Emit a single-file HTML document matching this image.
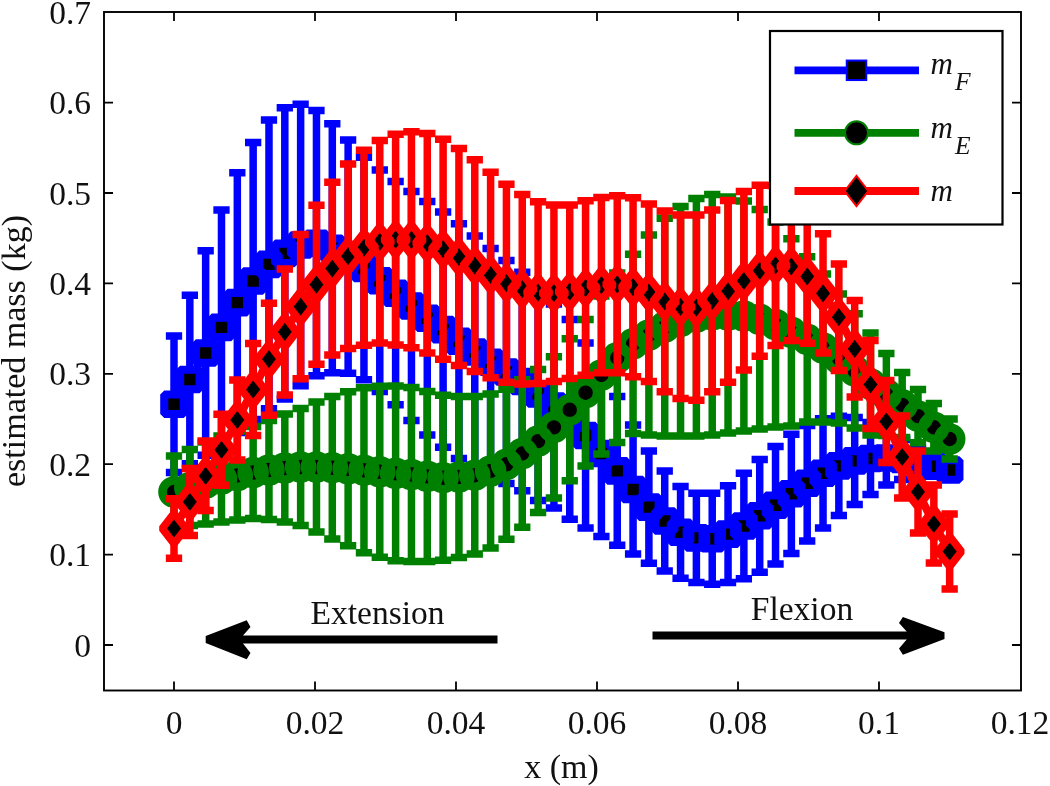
<!DOCTYPE html>
<html><head><meta charset="utf-8"><title>estimated mass</title>
<style>html,body{margin:0;padding:0;background:#fff}svg{display:block}</style></head>
<body><svg width="1050" height="786" viewBox="0 0 1050 786">
<rect width="1050" height="786" fill="#fff"/>
<rect x="104" y="12" width="917" height="678.5" fill="#fff" stroke="#000" stroke-width="1.9"/>
<path d="M174 690.5v-9M174 12v9M315 690.5v-9M315 12v9M456 690.5v-9M456 12v9M597 690.5v-9M597 12v9M738 690.5v-9M738 12v9M879 690.5v-9M879 12v9M104 645h9M1021 645h-9M104 554.6h9M1021 554.6h-9M104 464.2h9M1021 464.2h-9M104 373.8h9M1021 373.8h-9M104 283.4h9M1021 283.4h-9M104 193h9M1021 193h-9M104 102.6h9M1021 102.6h-9" stroke="#000" stroke-width="1.8" fill="none"/>
<g font-family="'Liberation Serif',serif" font-size="33.5" fill="#111"><text x="174" y="733.5" text-anchor="middle">0</text><text x="315" y="733.5" text-anchor="middle">0.02</text><text x="456" y="733.5" text-anchor="middle">0.04</text><text x="597" y="733.5" text-anchor="middle">0.06</text><text x="738" y="733.5" text-anchor="middle">0.08</text><text x="879" y="733.5" text-anchor="middle">0.1</text><text x="1020" y="733.5" text-anchor="middle">0.12</text><text x="91" y="656.5" text-anchor="end">0</text><text x="91" y="566.1" text-anchor="end">0.1</text><text x="91" y="475.7" text-anchor="end">0.2</text><text x="91" y="385.3" text-anchor="end">0.3</text><text x="91" y="294.9" text-anchor="end">0.4</text><text x="91" y="204.5" text-anchor="end">0.5</text><text x="91" y="114.1" text-anchor="end">0.6</text><text x="91" y="23.7" text-anchor="end">0.7</text><text x="561.5" y="777.5" text-anchor="middle" font-size="34">x (m)</text><text transform="translate(25 351) rotate(-90)" text-anchor="middle" font-size="34">estimated mass (kg)</text><text x="377.5" y="624" text-anchor="middle">Extension</text><text x="802" y="619.5" text-anchor="middle">Flexion</text></g>
<path d="M174 336.1V472.5M165.85 336.1h16.3M165.85 472.5h16.3M189.83 295.2V463.8M181.68 295.2h16.3M181.68 463.8h16.3M205.66 250.8V455.2M197.51 250.8h16.3M197.51 455.2h16.3M221.49 209.9V444.9M213.34 209.9h16.3M213.34 444.9h16.3M237.32 172.7V432.5M229.17 172.7h16.3M229.17 432.5h16.3M253.15 142.4V419.6M245 142.4h16.3M245 419.6h16.3M268.98 120.1V408.7M260.83 120.1h16.3M260.83 408.7h16.3M284.81 107.7V399.1M276.66 107.7h16.3M276.66 399.1h16.3M300.64 104.3V385.7M292.49 104.3h16.3M292.49 385.7h16.3M316.47 110.6V375.8M308.32 110.6h16.3M308.32 375.8h16.3M332.3 123.8V372.8M324.15 123.8h16.3M324.15 372.8h16.3M348.13 139.9V373.3M339.98 139.9h16.3M339.98 373.3h16.3M363.96 157.3V379.7M355.81 157.3h16.3M355.81 379.7h16.3M379.79 170V391.6M371.64 170h16.3M371.64 391.6h16.3M395.62 181.6V404.8M387.47 181.6h16.3M387.47 404.8h16.3M411.45 191.5V420.5M403.3 191.5h16.3M403.3 420.5h16.3M427.28 201.4V435M419.13 201.4h16.3M419.13 435h16.3M443.11 211.9V447.3M434.96 211.9h16.3M434.96 447.3h16.3M458.94 223.8V458.6M450.79 223.8h16.3M450.79 458.6h16.3M474.77 236V468M466.62 236h16.3M466.62 468h16.3M490.6 248.6V476M482.45 248.6h16.3M482.45 476h16.3M506.43 260.5V483.5M498.28 260.5h16.3M498.28 483.5h16.3M522.26 272.3V490.7M514.11 272.3h16.3M514.11 490.7h16.3M538.09 287.2V500.6M529.94 287.2h16.3M529.94 500.6h16.3M553.92 304V508M545.77 304h16.3M545.77 508h16.3M569.75 319.5V519.3M561.6 319.5h16.3M561.6 519.3h16.3M585.58 343V528M577.43 343h16.3M577.43 528h16.3M601.41 370.5V536.5M593.26 370.5h16.3M593.26 536.5h16.3M617.24 396.5V545.3M609.09 396.5h16.3M609.09 545.3h16.3M633.07 425V554M624.92 425h16.3M624.92 554h16.3M648.9 451V563.2M640.75 451h16.3M640.75 563.2h16.3M664.73 471.1V570.9M656.58 471.1h16.3M656.58 570.9h16.3M680.56 486.4V578.2M672.41 486.4h16.3M672.41 578.2h16.3M696.39 493.3V582.5M688.24 493.3h16.3M688.24 582.5h16.3M712.22 493.2V584.2M704.07 493.2h16.3M704.07 584.2h16.3M728.05 485.8V582.4M719.9 485.8h16.3M719.9 582.4h16.3M743.88 473.3V578.7M735.73 473.3h16.3M735.73 578.7h16.3M759.71 459.4V572.2M751.56 459.4h16.3M751.56 572.2h16.3M775.54 446.5V563.9M767.39 446.5h16.3M767.39 563.9h16.3M791.37 434.2V553.4M783.22 434.2h16.3M783.22 553.4h16.3M807.2 425.5V541.1M799.05 425.5h16.3M799.05 541.1h16.3M823.03 418.7V527.9M814.88 418.7h16.3M814.88 527.9h16.3M838.86 416.3V515.5M830.71 416.3h16.3M830.71 515.5h16.3M854.69 417.4V504.4M846.54 417.4h16.3M846.54 504.4h16.3M870.52 422.6V494.4M862.37 422.6h16.3M862.37 494.4h16.3M886.35 431V485M878.2 431h16.3M878.2 485h16.3M902.18 439.5V479.5M894.03 439.5h16.3M894.03 479.5h16.3M918.01 448.5V476.5M909.86 448.5h16.3M909.86 476.5h16.3M933.84 457.3V475.3M925.69 457.3h16.3M925.69 475.3h16.3M949.67 465V475M941.52 465h16.3M941.52 475h16.3" stroke="#0000ff" stroke-width="7.5" fill="none"/>
<polyline points="174,404.3 189.83,379.5 205.66,353 221.49,327.4 237.32,302.6 253.15,281 268.98,264.4 284.81,253.4 300.64,245 316.47,243.2 332.3,248.3 348.13,256.6 363.96,268.5 379.79,280.8 395.62,293.2 411.45,306 427.28,318.2 443.11,329.6 458.94,341.2 474.77,352 490.6,362.3 506.43,372 522.26,381.5 538.09,393.9 553.92,406 569.75,419.4 585.58,435.5 601.41,453.5 617.24,470.9 633.07,489.5 648.9,507.1 664.73,521 680.56,532.3 696.39,537.9 712.22,538.7 728.05,534.1 743.88,526 759.71,515.8 775.54,505.2 791.37,493.8 807.2,483.3 823.03,473.3 838.86,465.9 854.69,460.9 870.52,458.5 886.35,458 902.18,459.5 918.01,462.5 933.84,466.3 949.67,470" stroke="#0000ff" stroke-width="8.0" fill="none" stroke-linejoin="round"/>
<g fill="#000" stroke="none"><rect x="164.25" y="394.55" width="19.5" height="19.5"/><rect x="180.08" y="369.75" width="19.5" height="19.5"/><rect x="195.91" y="343.25" width="19.5" height="19.5"/><rect x="211.74" y="317.65" width="19.5" height="19.5"/><rect x="227.57" y="292.85" width="19.5" height="19.5"/><rect x="243.4" y="271.25" width="19.5" height="19.5"/><rect x="259.23" y="254.65" width="19.5" height="19.5"/><rect x="275.06" y="243.65" width="19.5" height="19.5"/><rect x="290.89" y="235.25" width="19.5" height="19.5"/><rect x="306.72" y="233.45" width="19.5" height="19.5"/><rect x="322.55" y="238.55" width="19.5" height="19.5"/><rect x="338.38" y="246.85" width="19.5" height="19.5"/><rect x="354.21" y="258.75" width="19.5" height="19.5"/><rect x="370.04" y="271.05" width="19.5" height="19.5"/><rect x="385.87" y="283.45" width="19.5" height="19.5"/><rect x="401.7" y="296.25" width="19.5" height="19.5"/><rect x="417.53" y="308.45" width="19.5" height="19.5"/><rect x="433.36" y="319.85" width="19.5" height="19.5"/><rect x="449.19" y="331.45" width="19.5" height="19.5"/><rect x="465.02" y="342.25" width="19.5" height="19.5"/><rect x="480.85" y="352.55" width="19.5" height="19.5"/><rect x="496.68" y="362.25" width="19.5" height="19.5"/><rect x="512.51" y="371.75" width="19.5" height="19.5"/><rect x="528.34" y="384.15" width="19.5" height="19.5"/><rect x="544.17" y="396.25" width="19.5" height="19.5"/><rect x="560" y="409.65" width="19.5" height="19.5"/><rect x="575.83" y="425.75" width="19.5" height="19.5"/><rect x="591.66" y="443.75" width="19.5" height="19.5"/><rect x="607.49" y="461.15" width="19.5" height="19.5"/><rect x="623.32" y="479.75" width="19.5" height="19.5"/><rect x="639.15" y="497.35" width="19.5" height="19.5"/><rect x="654.98" y="511.25" width="19.5" height="19.5"/><rect x="670.81" y="522.55" width="19.5" height="19.5"/><rect x="686.64" y="528.15" width="19.5" height="19.5"/><rect x="702.47" y="528.95" width="19.5" height="19.5"/><rect x="718.3" y="524.35" width="19.5" height="19.5"/><rect x="734.13" y="516.25" width="19.5" height="19.5"/><rect x="749.96" y="506.05" width="19.5" height="19.5"/><rect x="765.79" y="495.45" width="19.5" height="19.5"/><rect x="781.62" y="484.05" width="19.5" height="19.5"/><rect x="797.45" y="473.55" width="19.5" height="19.5"/><rect x="813.28" y="463.55" width="19.5" height="19.5"/><rect x="829.11" y="456.15" width="19.5" height="19.5"/><rect x="844.94" y="451.15" width="19.5" height="19.5"/><rect x="860.77" y="448.75" width="19.5" height="19.5"/><rect x="876.6" y="448.25" width="19.5" height="19.5"/><rect x="892.43" y="449.75" width="19.5" height="19.5"/><rect x="908.26" y="452.75" width="19.5" height="19.5"/><rect x="924.09" y="456.55" width="19.5" height="19.5"/><rect x="939.92" y="460.25" width="19.5" height="19.5"/></g>
<g stroke="#0000ff" stroke-width="8.1" fill="none" stroke-linejoin="bevel"><rect x="164.25" y="394.55" width="19.5" height="19.5"/><rect x="180.08" y="369.75" width="19.5" height="19.5"/><rect x="195.91" y="343.25" width="19.5" height="19.5"/><rect x="211.74" y="317.65" width="19.5" height="19.5"/><rect x="227.57" y="292.85" width="19.5" height="19.5"/><rect x="243.4" y="271.25" width="19.5" height="19.5"/><rect x="259.23" y="254.65" width="19.5" height="19.5"/><rect x="275.06" y="243.65" width="19.5" height="19.5"/><rect x="290.89" y="235.25" width="19.5" height="19.5"/><rect x="306.72" y="233.45" width="19.5" height="19.5"/><rect x="322.55" y="238.55" width="19.5" height="19.5"/><rect x="338.38" y="246.85" width="19.5" height="19.5"/><rect x="354.21" y="258.75" width="19.5" height="19.5"/><rect x="370.04" y="271.05" width="19.5" height="19.5"/><rect x="385.87" y="283.45" width="19.5" height="19.5"/><rect x="401.7" y="296.25" width="19.5" height="19.5"/><rect x="417.53" y="308.45" width="19.5" height="19.5"/><rect x="433.36" y="319.85" width="19.5" height="19.5"/><rect x="449.19" y="331.45" width="19.5" height="19.5"/><rect x="465.02" y="342.25" width="19.5" height="19.5"/><rect x="480.85" y="352.55" width="19.5" height="19.5"/><rect x="496.68" y="362.25" width="19.5" height="19.5"/><rect x="512.51" y="371.75" width="19.5" height="19.5"/><rect x="528.34" y="384.15" width="19.5" height="19.5"/><rect x="544.17" y="396.25" width="19.5" height="19.5"/><rect x="560" y="409.65" width="19.5" height="19.5"/><rect x="575.83" y="425.75" width="19.5" height="19.5"/><rect x="591.66" y="443.75" width="19.5" height="19.5"/><rect x="607.49" y="461.15" width="19.5" height="19.5"/><rect x="623.32" y="479.75" width="19.5" height="19.5"/><rect x="639.15" y="497.35" width="19.5" height="19.5"/><rect x="654.98" y="511.25" width="19.5" height="19.5"/><rect x="670.81" y="522.55" width="19.5" height="19.5"/><rect x="686.64" y="528.15" width="19.5" height="19.5"/><rect x="702.47" y="528.95" width="19.5" height="19.5"/><rect x="718.3" y="524.35" width="19.5" height="19.5"/><rect x="734.13" y="516.25" width="19.5" height="19.5"/><rect x="749.96" y="506.05" width="19.5" height="19.5"/><rect x="765.79" y="495.45" width="19.5" height="19.5"/><rect x="781.62" y="484.05" width="19.5" height="19.5"/><rect x="797.45" y="473.55" width="19.5" height="19.5"/><rect x="813.28" y="463.55" width="19.5" height="19.5"/><rect x="829.11" y="456.15" width="19.5" height="19.5"/><rect x="844.94" y="451.15" width="19.5" height="19.5"/><rect x="860.77" y="448.75" width="19.5" height="19.5"/><rect x="876.6" y="448.25" width="19.5" height="19.5"/><rect x="892.43" y="449.75" width="19.5" height="19.5"/><rect x="908.26" y="452.75" width="19.5" height="19.5"/><rect x="924.09" y="456.55" width="19.5" height="19.5"/><rect x="939.92" y="460.25" width="19.5" height="19.5"/></g>
<path d="M174 456V528M165.85 456h16.3M165.85 528h16.3M189.83 449.5V525.5M181.68 449.5h16.3M181.68 525.5h16.3M205.66 442V524M197.51 442h16.3M197.51 524h16.3M221.49 436V522M213.34 436h16.3M213.34 522h16.3M237.32 431V520M229.17 431h16.3M229.17 520h16.3M253.15 426.5V518.5M245 426.5h16.3M245 518.5h16.3M268.98 420.5V519.5M260.83 420.5h16.3M260.83 519.5h16.3M284.81 414V522M276.66 414h16.3M276.66 522h16.3M300.64 408.4V525.6M292.49 408.4h16.3M292.49 525.6h16.3M316.47 402V532M308.32 402h16.3M308.32 532h16.3M332.3 396.4V539M324.15 396.4h16.3M324.15 539h16.3M348.13 391.8V545.8M339.98 391.8h16.3M339.98 545.8h16.3M363.96 387.7V552.7M355.81 387.7h16.3M355.81 552.7h16.3M379.79 386.3V557.3M371.64 386.3h16.3M371.64 557.3h16.3M395.62 386V560.8M387.47 386h16.3M387.47 560.8h16.3M411.45 387.6V561.4M403.3 387.6h16.3M403.3 561.4h16.3M427.28 391.4V561.4M419.13 391.4h16.3M419.13 561.4h16.3M443.11 395.2V560.2M434.96 395.2h16.3M434.96 560.2h16.3M458.94 396.4V557.6M450.79 396.4h16.3M450.79 557.6h16.3M474.77 396.4V554M466.62 396.4h16.3M466.62 554h16.3M490.6 394V548M482.45 394h16.3M482.45 548h16.3M506.43 389.3V539.3M498.28 389.3h16.3M498.28 539.3h16.3M522.26 379.8V527.2M514.11 379.8h16.3M514.11 527.2h16.3M538.09 369.6V512.6M529.94 369.6h16.3M529.94 512.6h16.3M553.92 356.7V498.1M545.77 356.7h16.3M545.77 498.1h16.3M569.75 338.8V480.8M561.6 338.8h16.3M561.6 480.8h16.3M585.58 319.5V465.9M577.43 319.5h16.3M577.43 465.9h16.3M601.41 296V454M593.26 296h16.3M593.26 454h16.3M617.24 273.1V442.5M609.09 273.1h16.3M609.09 442.5h16.3M633.07 254.2V433.6M624.92 254.2h16.3M624.92 433.6h16.3M648.9 235V435M640.75 235h16.3M640.75 435h16.3M664.73 218.2V436M656.58 218.2h16.3M656.58 436h16.3M680.56 206.6V436M672.41 206.6h16.3M672.41 436h16.3M696.39 198.4V436M688.24 198.4h16.3M688.24 436h16.3M712.22 194.6V435M704.07 194.6h16.3M704.07 435h16.3M728.05 197V433M719.9 197h16.3M719.9 433h16.3M743.88 201V431M735.73 201h16.3M735.73 431h16.3M759.71 209.6V429M751.56 209.6h16.3M751.56 429h16.3M775.54 222V427M767.39 222h16.3M767.39 427h16.3M791.37 238.8V426M783.22 238.8h16.3M783.22 426h16.3M807.2 256.7V422.1M799.05 256.7h16.3M799.05 422.1h16.3M823.03 274V422M814.88 274h16.3M814.88 422h16.3M838.86 293.9V423.1M830.71 293.9h16.3M830.71 423.1h16.3M854.69 313.8V428M846.54 313.8h16.3M846.54 428h16.3M870.52 333V435M862.37 333h16.3M862.37 435h16.3M886.35 353.5V435.5M878.2 353.5h16.3M878.2 435.5h16.3M902.18 372.4V437.4M894.03 372.4h16.3M894.03 437.4h16.3M918.01 389.5V442.7M909.86 389.5h16.3M909.86 442.7h16.3M933.84 403.5V451.1M925.69 403.5h16.3M925.69 451.1h16.3M949.67 419V459M941.52 419h16.3M941.52 459h16.3" stroke="#008000" stroke-width="7.5" fill="none"/>
<polyline points="174,492 189.83,487.5 205.66,483 221.49,479 237.32,475.5 253.15,472.5 268.98,470 284.81,468 300.64,467 316.47,467 332.3,467.7 348.13,468.8 363.96,470.2 379.79,471.8 395.62,473.4 411.45,474.5 427.28,476.4 443.11,477.7 458.94,477 474.77,475.2 490.6,471 506.43,464.3 522.26,453.5 538.09,441.1 553.92,427.4 569.75,409.8 585.58,392.7 601.41,375 617.24,357.8 633.07,343.9 648.9,335 664.73,327.1 680.56,321.3 696.39,317.2 712.22,314.8 728.05,315 743.88,316 759.71,319.3 775.54,324.5 791.37,332.4 807.2,339.4 823.03,348 838.86,358.5 854.69,370.9 870.52,384 886.35,394.5 902.18,404.9 918.01,416.1 933.84,427.3 949.67,439" stroke="#008000" stroke-width="8.0" fill="none" stroke-linejoin="round"/>
<g fill="#000" stroke="none"><circle cx="174" cy="492" r="11.5"/><circle cx="189.83" cy="487.5" r="11.5"/><circle cx="205.66" cy="483" r="11.5"/><circle cx="221.49" cy="479" r="11.5"/><circle cx="237.32" cy="475.5" r="11.5"/><circle cx="253.15" cy="472.5" r="11.5"/><circle cx="268.98" cy="470" r="11.5"/><circle cx="284.81" cy="468" r="11.5"/><circle cx="300.64" cy="467" r="11.5"/><circle cx="316.47" cy="467" r="11.5"/><circle cx="332.3" cy="467.7" r="11.5"/><circle cx="348.13" cy="468.8" r="11.5"/><circle cx="363.96" cy="470.2" r="11.5"/><circle cx="379.79" cy="471.8" r="11.5"/><circle cx="395.62" cy="473.4" r="11.5"/><circle cx="411.45" cy="474.5" r="11.5"/><circle cx="427.28" cy="476.4" r="11.5"/><circle cx="443.11" cy="477.7" r="11.5"/><circle cx="458.94" cy="477" r="11.5"/><circle cx="474.77" cy="475.2" r="11.5"/><circle cx="490.6" cy="471" r="11.5"/><circle cx="506.43" cy="464.3" r="11.5"/><circle cx="522.26" cy="453.5" r="11.5"/><circle cx="538.09" cy="441.1" r="11.5"/><circle cx="553.92" cy="427.4" r="11.5"/><circle cx="569.75" cy="409.8" r="11.5"/><circle cx="585.58" cy="392.7" r="11.5"/><circle cx="601.41" cy="375" r="11.5"/><circle cx="617.24" cy="357.8" r="11.5"/><circle cx="633.07" cy="343.9" r="11.5"/><circle cx="648.9" cy="335" r="11.5"/><circle cx="664.73" cy="327.1" r="11.5"/><circle cx="680.56" cy="321.3" r="11.5"/><circle cx="696.39" cy="317.2" r="11.5"/><circle cx="712.22" cy="314.8" r="11.5"/><circle cx="728.05" cy="315" r="11.5"/><circle cx="743.88" cy="316" r="11.5"/><circle cx="759.71" cy="319.3" r="11.5"/><circle cx="775.54" cy="324.5" r="11.5"/><circle cx="791.37" cy="332.4" r="11.5"/><circle cx="807.2" cy="339.4" r="11.5"/><circle cx="823.03" cy="348" r="11.5"/><circle cx="838.86" cy="358.5" r="11.5"/><circle cx="854.69" cy="370.9" r="11.5"/><circle cx="870.52" cy="384" r="11.5"/><circle cx="886.35" cy="394.5" r="11.5"/><circle cx="902.18" cy="404.9" r="11.5"/><circle cx="918.01" cy="416.1" r="11.5"/><circle cx="933.84" cy="427.3" r="11.5"/><circle cx="949.67" cy="439" r="11.5"/></g>
<g stroke="#008000" stroke-width="8.6" fill="none" stroke-linejoin="bevel"><circle cx="174" cy="492" r="11.5"/><circle cx="189.83" cy="487.5" r="11.5"/><circle cx="205.66" cy="483" r="11.5"/><circle cx="221.49" cy="479" r="11.5"/><circle cx="237.32" cy="475.5" r="11.5"/><circle cx="253.15" cy="472.5" r="11.5"/><circle cx="268.98" cy="470" r="11.5"/><circle cx="284.81" cy="468" r="11.5"/><circle cx="300.64" cy="467" r="11.5"/><circle cx="316.47" cy="467" r="11.5"/><circle cx="332.3" cy="467.7" r="11.5"/><circle cx="348.13" cy="468.8" r="11.5"/><circle cx="363.96" cy="470.2" r="11.5"/><circle cx="379.79" cy="471.8" r="11.5"/><circle cx="395.62" cy="473.4" r="11.5"/><circle cx="411.45" cy="474.5" r="11.5"/><circle cx="427.28" cy="476.4" r="11.5"/><circle cx="443.11" cy="477.7" r="11.5"/><circle cx="458.94" cy="477" r="11.5"/><circle cx="474.77" cy="475.2" r="11.5"/><circle cx="490.6" cy="471" r="11.5"/><circle cx="506.43" cy="464.3" r="11.5"/><circle cx="522.26" cy="453.5" r="11.5"/><circle cx="538.09" cy="441.1" r="11.5"/><circle cx="553.92" cy="427.4" r="11.5"/><circle cx="569.75" cy="409.8" r="11.5"/><circle cx="585.58" cy="392.7" r="11.5"/><circle cx="601.41" cy="375" r="11.5"/><circle cx="617.24" cy="357.8" r="11.5"/><circle cx="633.07" cy="343.9" r="11.5"/><circle cx="648.9" cy="335" r="11.5"/><circle cx="664.73" cy="327.1" r="11.5"/><circle cx="680.56" cy="321.3" r="11.5"/><circle cx="696.39" cy="317.2" r="11.5"/><circle cx="712.22" cy="314.8" r="11.5"/><circle cx="728.05" cy="315" r="11.5"/><circle cx="743.88" cy="316" r="11.5"/><circle cx="759.71" cy="319.3" r="11.5"/><circle cx="775.54" cy="324.5" r="11.5"/><circle cx="791.37" cy="332.4" r="11.5"/><circle cx="807.2" cy="339.4" r="11.5"/><circle cx="823.03" cy="348" r="11.5"/><circle cx="838.86" cy="358.5" r="11.5"/><circle cx="854.69" cy="370.9" r="11.5"/><circle cx="870.52" cy="384" r="11.5"/><circle cx="886.35" cy="394.5" r="11.5"/><circle cx="902.18" cy="404.9" r="11.5"/><circle cx="918.01" cy="416.1" r="11.5"/><circle cx="933.84" cy="427.3" r="11.5"/><circle cx="949.67" cy="439" r="11.5"/></g>
<path d="M174 498.7V558.3M165.85 498.7h16.3M165.85 558.3h16.3M189.83 468.4V535.4M181.68 468.4h16.3M181.68 535.4h16.3M205.66 441V510.6M197.51 441h16.3M197.51 510.6h16.3M221.49 414.3V485.3M213.34 414.3h16.3M213.34 485.3h16.3M237.32 380V460M229.17 380h16.3M229.17 460h16.3M253.15 343.5V435.5M245 343.5h16.3M245 435.5h16.3M268.98 303.2V415.2M260.83 303.2h16.3M260.83 415.2h16.3M284.81 268.9V394.9M276.66 268.9h16.3M276.66 394.9h16.3M300.64 234.4V378.8M292.49 234.4h16.3M292.49 378.8h16.3M316.47 205.2V364.2M308.32 205.2h16.3M308.32 364.2h16.3M332.3 182.3V354.9M324.15 182.3h16.3M324.15 354.9h16.3M348.13 164V348.4M339.98 164h16.3M339.98 348.4h16.3M363.96 150.3V345.3M355.81 150.3h16.3M355.81 345.3h16.3M379.79 140.6V343M371.64 140.6h16.3M371.64 343h16.3M395.62 134.2V345M387.47 134.2h16.3M387.47 345h16.3M411.45 131.85V347.85M403.3 131.85h16.3M403.3 347.85h16.3M427.28 133.5V352.9M419.13 133.5h16.3M419.13 352.9h16.3M443.11 139.2V359.2M434.96 139.2h16.3M434.96 359.2h16.3M458.94 148.6V365.4M450.79 148.6h16.3M450.79 365.4h16.3M474.77 159.8V371.6M466.62 159.8h16.3M466.62 371.6h16.3M490.6 172.2V377.8M482.45 172.2h16.3M482.45 377.8h16.3M506.43 184.2V382.2M498.28 184.2h16.3M498.28 382.2h16.3M522.26 194.4V384M514.11 194.4h16.3M514.11 384h16.3M538.09 201.7V383.5M529.94 201.7h16.3M529.94 383.5h16.3M553.92 204.9V381.5M545.77 204.9h16.3M545.77 381.5h16.3M569.75 204.9V378.5M561.6 204.9h16.3M561.6 378.5h16.3M585.58 200.7V375.3M577.43 200.7h16.3M577.43 375.3h16.3M601.41 197.6V372.8M593.26 197.6h16.3M593.26 372.8h16.3M617.24 195.8V372.8M609.09 195.8h16.3M609.09 372.8h16.3M633.07 197.7V376.7M624.92 197.7h16.3M624.92 376.7h16.3M648.9 203.9V381.5M640.75 203.9h16.3M640.75 381.5h16.3M664.73 211.1V391.7M656.58 211.1h16.3M656.58 391.7h16.3M680.56 215V398.6M672.41 215h16.3M672.41 398.6h16.3M696.39 215V400.2M688.24 215h16.3M688.24 400.2h16.3M712.22 210.1V391.7M704.07 210.1h16.3M704.07 391.7h16.3M728.05 200.6V382.2M719.9 200.6h16.3M719.9 382.2h16.3M743.88 191.5V370.1M735.73 191.5h16.3M735.73 370.1h16.3M759.71 185.3V356.3M751.56 185.3h16.3M751.56 356.3h16.3M775.54 185.4V345.4M767.39 185.4h16.3M767.39 345.4h16.3M791.37 192.6V340.6M783.22 192.6h16.3M783.22 340.6h16.3M807.2 209.3V343.3M799.05 209.3h16.3M799.05 343.3h16.3M823.03 233.7V352.9M814.88 233.7h16.3M814.88 352.9h16.3M838.86 263.9V370.5M830.71 263.9h16.3M830.71 370.5h16.3M854.69 300.5V397.1M846.54 300.5h16.3M846.54 397.1h16.3M870.52 340.5V428.5M862.37 340.5h16.3M862.37 428.5h16.3M886.35 380.6V462.4M878.2 380.6h16.3M878.2 462.4h16.3M902.18 416V498M894.03 416h16.3M894.03 498h16.3M918.01 450.9V532.9M909.86 450.9h16.3M909.86 532.9h16.3M933.84 485V563M925.69 485h16.3M925.69 563h16.3M949.67 514V589M941.52 514h16.3M941.52 589h16.3" stroke="#ff0000" stroke-width="7.5" fill="none"/>
<polyline points="174,528.5 189.83,501.9 205.66,475.8 221.49,449.8 237.32,420 253.15,389.5 268.98,359.2 284.81,331.9 300.64,306.6 316.47,284.7 332.3,268.6 348.13,256.2 363.96,247.8 379.79,241.8 395.62,239.6 411.45,239.85 427.28,243.2 443.11,249.2 458.94,257 474.77,265.7 490.6,275 506.43,283.2 522.26,289.2 538.09,292.6 553.92,293.2 569.75,291.7 585.58,288 601.41,285.2 617.24,284.3 633.07,287.2 648.9,292.7 664.73,301.4 680.56,306.8 696.39,307.6 712.22,300.9 728.05,291.4 743.88,280.8 759.71,270.8 775.54,265.4 791.37,266.6 807.2,276.3 823.03,293.3 838.86,317.2 854.69,348.8 870.52,384.5 886.35,421.5 902.18,457 918.01,491.9 933.84,524 949.67,551.5" stroke="#ff0000" stroke-width="8.0" fill="none" stroke-linejoin="round"/>
<g fill="#000" stroke="none"><path d="M174 513.3L185.8 528.5L174 543.7L162.2 528.5Z"/><path d="M189.83 486.7L201.63 501.9L189.83 517.1L178.03 501.9Z"/><path d="M205.66 460.6L217.46 475.8L205.66 491L193.86 475.8Z"/><path d="M221.49 434.6L233.29 449.8L221.49 465L209.69 449.8Z"/><path d="M237.32 404.8L249.12 420L237.32 435.2L225.52 420Z"/><path d="M253.15 374.3L264.95 389.5L253.15 404.7L241.35 389.5Z"/><path d="M268.98 344L280.78 359.2L268.98 374.4L257.18 359.2Z"/><path d="M284.81 316.7L296.61 331.9L284.81 347.1L273.01 331.9Z"/><path d="M300.64 291.4L312.44 306.6L300.64 321.8L288.84 306.6Z"/><path d="M316.47 269.5L328.27 284.7L316.47 299.9L304.67 284.7Z"/><path d="M332.3 253.4L344.1 268.6L332.3 283.8L320.5 268.6Z"/><path d="M348.13 241L359.93 256.2L348.13 271.4L336.33 256.2Z"/><path d="M363.96 232.6L375.76 247.8L363.96 263L352.16 247.8Z"/><path d="M379.79 226.6L391.59 241.8L379.79 257L367.99 241.8Z"/><path d="M395.62 224.4L407.42 239.6L395.62 254.8L383.82 239.6Z"/><path d="M411.45 224.65L423.25 239.85L411.45 255.05L399.65 239.85Z"/><path d="M427.28 228L439.08 243.2L427.28 258.4L415.48 243.2Z"/><path d="M443.11 234L454.91 249.2L443.11 264.4L431.31 249.2Z"/><path d="M458.94 241.8L470.74 257L458.94 272.2L447.14 257Z"/><path d="M474.77 250.5L486.57 265.7L474.77 280.9L462.97 265.7Z"/><path d="M490.6 259.8L502.4 275L490.6 290.2L478.8 275Z"/><path d="M506.43 268L518.23 283.2L506.43 298.4L494.63 283.2Z"/><path d="M522.26 274L534.06 289.2L522.26 304.4L510.46 289.2Z"/><path d="M538.09 277.4L549.89 292.6L538.09 307.8L526.29 292.6Z"/><path d="M553.92 278L565.72 293.2L553.92 308.4L542.12 293.2Z"/><path d="M569.75 276.5L581.55 291.7L569.75 306.9L557.95 291.7Z"/><path d="M585.58 272.8L597.38 288L585.58 303.2L573.78 288Z"/><path d="M601.41 270L613.21 285.2L601.41 300.4L589.61 285.2Z"/><path d="M617.24 269.1L629.04 284.3L617.24 299.5L605.44 284.3Z"/><path d="M633.07 272L644.87 287.2L633.07 302.4L621.27 287.2Z"/><path d="M648.9 277.5L660.7 292.7L648.9 307.9L637.1 292.7Z"/><path d="M664.73 286.2L676.53 301.4L664.73 316.6L652.93 301.4Z"/><path d="M680.56 291.6L692.36 306.8L680.56 322L668.76 306.8Z"/><path d="M696.39 292.4L708.19 307.6L696.39 322.8L684.59 307.6Z"/><path d="M712.22 285.7L724.02 300.9L712.22 316.1L700.42 300.9Z"/><path d="M728.05 276.2L739.85 291.4L728.05 306.6L716.25 291.4Z"/><path d="M743.88 265.6L755.68 280.8L743.88 296L732.08 280.8Z"/><path d="M759.71 255.6L771.51 270.8L759.71 286L747.91 270.8Z"/><path d="M775.54 250.2L787.34 265.4L775.54 280.6L763.74 265.4Z"/><path d="M791.37 251.4L803.17 266.6L791.37 281.8L779.57 266.6Z"/><path d="M807.2 261.1L819 276.3L807.2 291.5L795.4 276.3Z"/><path d="M823.03 278.1L834.83 293.3L823.03 308.5L811.23 293.3Z"/><path d="M838.86 302L850.66 317.2L838.86 332.4L827.06 317.2Z"/><path d="M854.69 333.6L866.49 348.8L854.69 364L842.89 348.8Z"/><path d="M870.52 369.3L882.32 384.5L870.52 399.7L858.72 384.5Z"/><path d="M886.35 406.3L898.15 421.5L886.35 436.7L874.55 421.5Z"/><path d="M902.18 441.8L913.98 457L902.18 472.2L890.38 457Z"/><path d="M918.01 476.7L929.81 491.9L918.01 507.1L906.21 491.9Z"/><path d="M933.84 508.8L945.64 524L933.84 539.2L922.04 524Z"/><path d="M949.67 536.3L961.47 551.5L949.67 566.7L937.87 551.5Z"/></g>
<g stroke="#ff0000" stroke-width="7.6" fill="none" stroke-linejoin="bevel"><path d="M174 513.3L185.8 528.5L174 543.7L162.2 528.5Z"/><path d="M189.83 486.7L201.63 501.9L189.83 517.1L178.03 501.9Z"/><path d="M205.66 460.6L217.46 475.8L205.66 491L193.86 475.8Z"/><path d="M221.49 434.6L233.29 449.8L221.49 465L209.69 449.8Z"/><path d="M237.32 404.8L249.12 420L237.32 435.2L225.52 420Z"/><path d="M253.15 374.3L264.95 389.5L253.15 404.7L241.35 389.5Z"/><path d="M268.98 344L280.78 359.2L268.98 374.4L257.18 359.2Z"/><path d="M284.81 316.7L296.61 331.9L284.81 347.1L273.01 331.9Z"/><path d="M300.64 291.4L312.44 306.6L300.64 321.8L288.84 306.6Z"/><path d="M316.47 269.5L328.27 284.7L316.47 299.9L304.67 284.7Z"/><path d="M332.3 253.4L344.1 268.6L332.3 283.8L320.5 268.6Z"/><path d="M348.13 241L359.93 256.2L348.13 271.4L336.33 256.2Z"/><path d="M363.96 232.6L375.76 247.8L363.96 263L352.16 247.8Z"/><path d="M379.79 226.6L391.59 241.8L379.79 257L367.99 241.8Z"/><path d="M395.62 224.4L407.42 239.6L395.62 254.8L383.82 239.6Z"/><path d="M411.45 224.65L423.25 239.85L411.45 255.05L399.65 239.85Z"/><path d="M427.28 228L439.08 243.2L427.28 258.4L415.48 243.2Z"/><path d="M443.11 234L454.91 249.2L443.11 264.4L431.31 249.2Z"/><path d="M458.94 241.8L470.74 257L458.94 272.2L447.14 257Z"/><path d="M474.77 250.5L486.57 265.7L474.77 280.9L462.97 265.7Z"/><path d="M490.6 259.8L502.4 275L490.6 290.2L478.8 275Z"/><path d="M506.43 268L518.23 283.2L506.43 298.4L494.63 283.2Z"/><path d="M522.26 274L534.06 289.2L522.26 304.4L510.46 289.2Z"/><path d="M538.09 277.4L549.89 292.6L538.09 307.8L526.29 292.6Z"/><path d="M553.92 278L565.72 293.2L553.92 308.4L542.12 293.2Z"/><path d="M569.75 276.5L581.55 291.7L569.75 306.9L557.95 291.7Z"/><path d="M585.58 272.8L597.38 288L585.58 303.2L573.78 288Z"/><path d="M601.41 270L613.21 285.2L601.41 300.4L589.61 285.2Z"/><path d="M617.24 269.1L629.04 284.3L617.24 299.5L605.44 284.3Z"/><path d="M633.07 272L644.87 287.2L633.07 302.4L621.27 287.2Z"/><path d="M648.9 277.5L660.7 292.7L648.9 307.9L637.1 292.7Z"/><path d="M664.73 286.2L676.53 301.4L664.73 316.6L652.93 301.4Z"/><path d="M680.56 291.6L692.36 306.8L680.56 322L668.76 306.8Z"/><path d="M696.39 292.4L708.19 307.6L696.39 322.8L684.59 307.6Z"/><path d="M712.22 285.7L724.02 300.9L712.22 316.1L700.42 300.9Z"/><path d="M728.05 276.2L739.85 291.4L728.05 306.6L716.25 291.4Z"/><path d="M743.88 265.6L755.68 280.8L743.88 296L732.08 280.8Z"/><path d="M759.71 255.6L771.51 270.8L759.71 286L747.91 270.8Z"/><path d="M775.54 250.2L787.34 265.4L775.54 280.6L763.74 265.4Z"/><path d="M791.37 251.4L803.17 266.6L791.37 281.8L779.57 266.6Z"/><path d="M807.2 261.1L819 276.3L807.2 291.5L795.4 276.3Z"/><path d="M823.03 278.1L834.83 293.3L823.03 308.5L811.23 293.3Z"/><path d="M838.86 302L850.66 317.2L838.86 332.4L827.06 317.2Z"/><path d="M854.69 333.6L866.49 348.8L854.69 364L842.89 348.8Z"/><path d="M870.52 369.3L882.32 384.5L870.52 399.7L858.72 384.5Z"/><path d="M886.35 406.3L898.15 421.5L886.35 436.7L874.55 421.5Z"/><path d="M902.18 441.8L913.98 457L902.18 472.2L890.38 457Z"/><path d="M918.01 476.7L929.81 491.9L918.01 507.1L906.21 491.9Z"/><path d="M933.84 508.8L945.64 524L933.84 539.2L922.04 524Z"/><path d="M949.67 536.3L961.47 551.5L949.67 566.7L937.87 551.5Z"/></g>
<path d="M497.5 639.5H243" stroke="#000" stroke-width="8" fill="none"/>
<path d="M205.7 636L246.7 620.2L250.5 626.9L243 635.5V643.5L250.5 653.1L246.7 659.3L205.7 643Z" fill="#000"/>
<path d="M652.5 635.5H907" stroke="#000" stroke-width="8" fill="none"/>
<path d="M944.5 632.2L902.9 617L899 622.9L906.7 631.4V639.5L899 648.6L902.9 654.8L944.5 639Z" fill="#000"/>
<rect x="770" y="31" width="232.5" height="193.5" fill="#fff" stroke="#000" stroke-width="2.2"/>
<path d="M794.5 70.3H919" stroke="#0000ff" stroke-width="7.8" fill="none"/>
<g stroke="#0000ff" stroke-width="2" fill="#000"><rect x="846.75" y="60.55" width="19.5" height="19.5"/></g>
<path d="M794.5 132.8H919" stroke="#008000" stroke-width="7.8" fill="none"/>
<g stroke="#008000" stroke-width="2" fill="#000"><circle cx="856.5" cy="132.8" r="11.5"/></g>
<path d="M794.5 191H919" stroke="#ff0000" stroke-width="7.8" fill="none"/>
<g stroke="#ff0000" stroke-width="2" fill="#000"><path d="M856.5 175.8L868.3 191L856.5 206.2L844.7 191Z"/></g>
<g font-family="'Liberation Serif',serif" font-style="italic" fill="#111"><text x="930.5" y="73.5" font-size="31">m</text><text x="955" y="90" font-size="25.5">F</text><text x="930.5" y="137.5" font-size="31">m</text><text x="955" y="154" font-size="25.5">E</text><text x="930.5" y="201" font-size="31">m</text></g>
</svg></body></html>
